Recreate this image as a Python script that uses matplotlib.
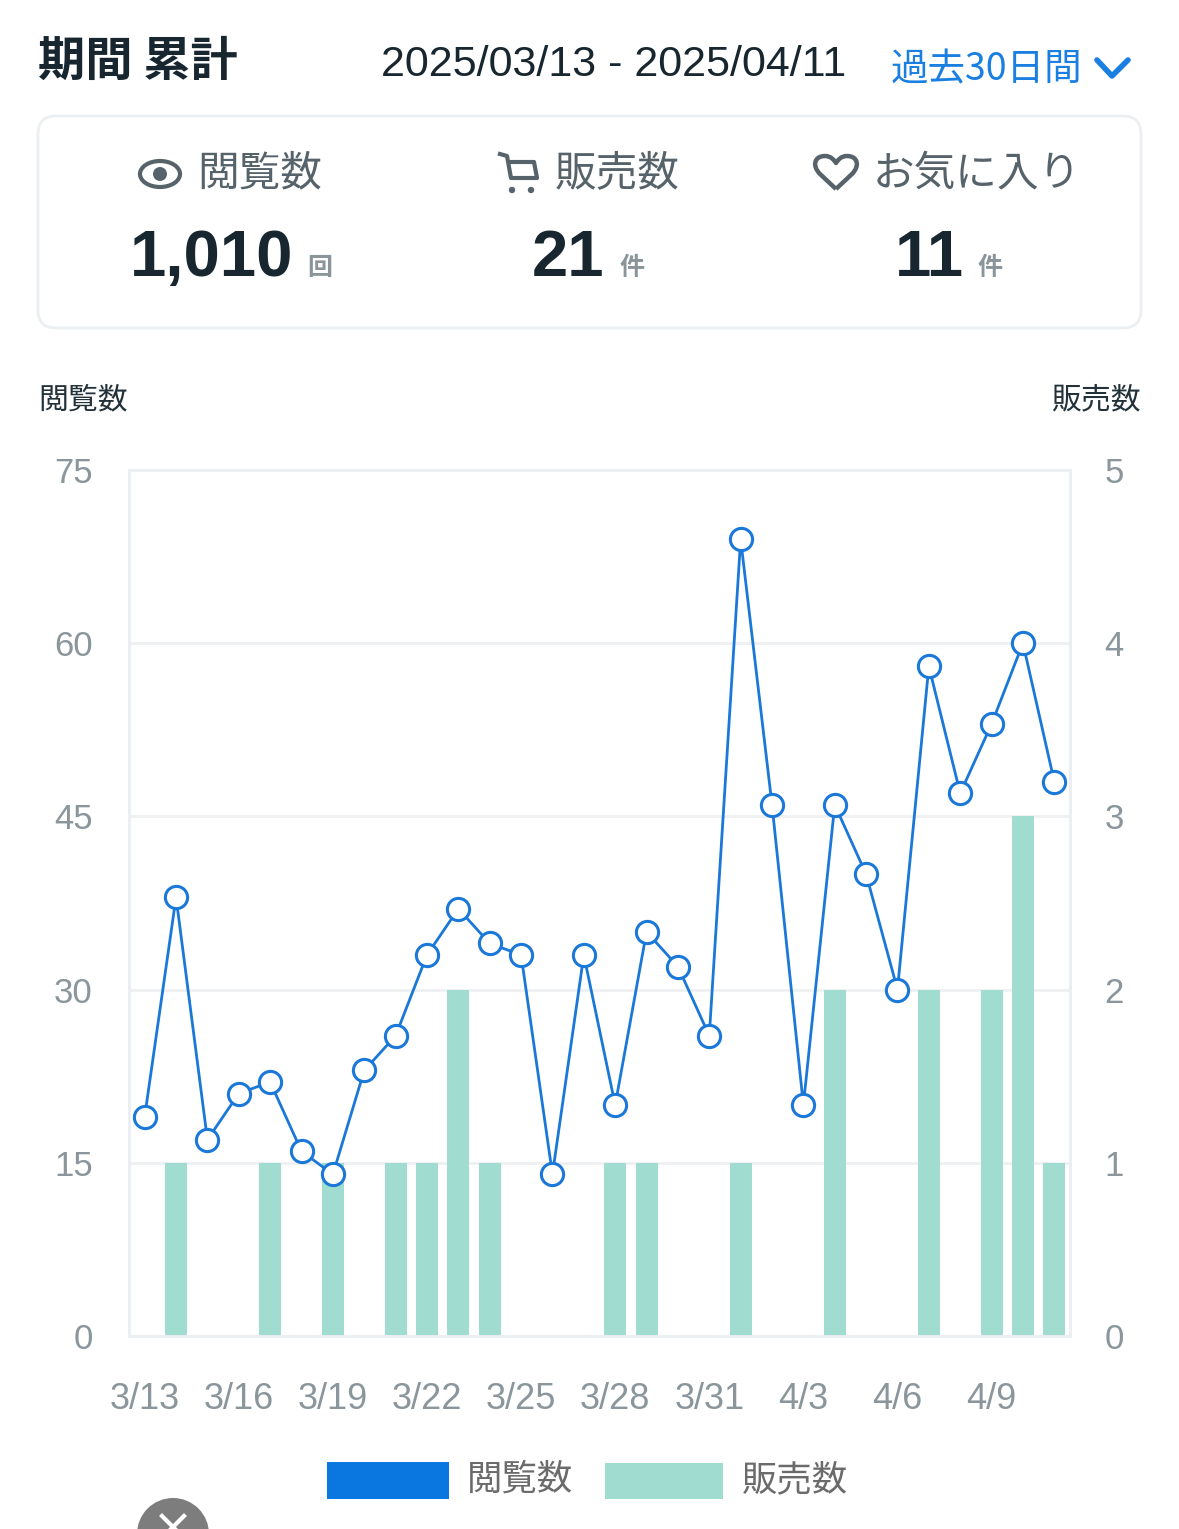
import matplotlib
matplotlib.use("Agg")
import matplotlib.pyplot as plt
from matplotlib.patches import FancyBboxPatch, Rectangle, Ellipse, Circle, PathPatch
from matplotlib.path import Path

plt.rcParams['font.family'] = ['Noto Sans CJK JP', 'DejaVu Sans']

dates = ["3/13", "3/14", "3/15", "3/16", "3/17", "3/18", "3/19", "3/20", "3/21", "3/22",
         "3/23", "3/24", "3/25", "3/26", "3/27", "3/28", "3/29", "3/30", "3/31", "4/1",
         "4/2", "4/3", "4/4", "4/5", "4/6", "4/7", "4/8", "4/9", "4/10", "4/11"]
views = [19, 38, 17, 21, 22, 16, 14, 23, 26, 33,
         37, 34, 33, 14, 33, 20, 35, 32, 26, 69,
         46, 20, 46, 40, 30, 58, 47, 53, 60, 48]
sales = [0, 1, 0, 0, 1, 0, 1, 0, 1, 1,
         2, 1, 0, 0, 0, 1, 1, 0, 0, 1,
         0, 0, 2, 0, 0, 2, 0, 2, 3, 1]
view_ticks = [0, 15, 30, 45, 60, 75]
sales_ticks = [0, 1, 2, 3, 4, 5]
summary_labels = ["閲覧数", "販売数", "お気に入り"]
summary_values = ["1,010", "21", "11"]
summary_units = ["回", "件", "件"]

W, H = 1179, 1529
BLUE = "#1a78d8"
TEAL = "#a0ddd0"
GRAY_TICK = "#8a969c"
DARK = "#17262f"
NUM_FONT = ["Liberation Sans", "DejaVu Sans"]

fig = plt.figure(figsize=(W / 100, H / 100), dpi=100)

# background overlay in pixel coords
bg = fig.add_axes([0, 0, 1, 1], zorder=0)
bg.set_xlim(0, W)
bg.set_ylim(H, 0)
bg.axis("off")

bg.text(38, 62, "期間 累計", fontsize=34, fontweight="bold", color=DARK, va="center", ha="left")
bg.text(381, 65, "2025/03/13 - 2025/04/11", fontsize=31, color=DARK, va="center", ha="left",
        family=NUM_FONT)
bg.text(891, 70, "過去30日間", fontsize=27, color="#1a7fe0", va="center", ha="left")
bg.plot([1097, 1112, 1128], [60, 76, 60], color="#1a7fe0", lw=4, solid_capstyle="round",
        solid_joinstyle="round")

card = FancyBboxPatch((38, 116), 1103, 212, boxstyle="round,pad=0,rounding_size=18",
                      facecolor="white", edgecolor="#eceff1", lw=2)
bg.add_patch(card)

# icons
icon_c = "#56636b"
bg.add_patch(Ellipse((160, 174), 40, 26, facecolor="none", edgecolor=icon_c, lw=3))
bg.add_patch(Circle((160, 174), 7, facecolor=icon_c, edgecolor="none"))
bg.plot([500, 507, 511, 537, 534, 512], [154, 156, 178, 178, 162, 162], color=icon_c, lw=3,
        solid_joinstyle="round")
bg.add_patch(Circle((512, 190), 2.5, color=icon_c))
bg.add_patch(Circle((531, 190), 2.5, color=icon_c))
heart = Path(
    [(836, 189), (820, 174), (812, 166), (814, 156), (825, 156), (831, 156), (834, 160), (836, 163),
     (838, 160), (841, 156), (847, 156), (858, 156), (860, 166), (852, 174), (836, 189)],
    [Path.MOVETO, Path.LINETO, Path.CURVE4, Path.CURVE4, Path.CURVE4, Path.CURVE4, Path.CURVE4,
     Path.CURVE4, Path.CURVE4, Path.CURVE4, Path.CURVE4, Path.CURVE4, Path.CURVE4, Path.CURVE4,
     Path.LINETO])
bg.add_patch(PathPatch(heart, facecolor="none", edgecolor=icon_c, lw=3.2, joinstyle="round"))

label_x = [197, 555, 873]
value_x = [130, 532, 895]
unit_x = [307, 619, 977]
for lx, vx, ux, lab, val, unit in zip(label_x, value_x, unit_x, summary_labels, summary_values, summary_units):
    bg.text(lx, 174, lab, fontsize=30, color=icon_c, va="center", ha="left")
    bg.text(vx, 259, val, fontsize=47, fontweight="bold", color=DARK, va="center", ha="left",
            family=NUM_FONT)
    bg.text(ux, 268, unit, fontsize=18, fontweight="bold", color="#8a959b", va="center", ha="left")

bg.text(38, 400, "閲覧数", fontsize=21.5, color="#23323a", va="center", ha="left")
bg.text(1141, 400, "販売数", fontsize=21.5, color="#23323a", va="center", ha="right")

# legend
bg.add_patch(Rectangle((327, 1462), 122, 37, facecolor="#0a76e0", edgecolor="none"))
bg.text(467, 1480, "閲覧数", fontsize=25.5, color="#6b6b6b", va="center", ha="left")
bg.add_patch(Rectangle((605, 1463), 118, 36, facecolor=TEAL, edgecolor="none"))
bg.text(742, 1480, "販売数", fontsize=25.5, color="#6b6b6b", va="center", ha="left")

# floating close button (partly cut off)
bg.add_patch(Circle((173, 1534), 36, facecolor="#7d7d7d", edgecolor="none"))
bg.plot([162, 184], [1516, 1538], color="white", lw=3)
bg.plot([184, 162], [1516, 1538], color="white", lw=3)

# chart
left, right, top, bottom = 129, 1070, 470, 1336
ax = fig.add_axes([left / W, 1 - bottom / H, (right - left) / W, (bottom - top) / H], zorder=2)
ax2 = ax.twinx()
ax.set_zorder(3)
ax2.set_zorder(2)
ax.patch.set_visible(False)

x = list(range(len(dates)))
ax2.bar(x, sales, width=0.7, color=TEAL, zorder=2)
ax2.set_ylim(0, 5)
ax2.set_yticks(sales_ticks)
ax2.grid(axis="y", color="#eef0f1", lw=2, zorder=0)
ax2.set_axisbelow(True)

ax.plot(x, views, color=BLUE, lw=2, marker="o", markersize=16, markerfacecolor="white",
        markeredgecolor=BLUE, markeredgewidth=2.2, zorder=5, clip_on=False)
ax.set_ylim(0, 75)
ax.set_yticks(view_ticks)
ax.set_xlim(-0.5, 29.5)
ax.set_xticks(x[::3])
ax.set_xticklabels(dates[::3])

for a in (ax, ax2):
    for s in a.spines.values():
        s.set_color("#eceff1")
        s.set_linewidth(2)
    a.tick_params(length=0, labelcolor=GRAY_TICK, labelsize=25)
    for lab in a.get_xticklabels() + a.get_yticklabels():
        lab.set_family(NUM_FONT)
ax.tick_params(axis="x", labelsize=26)
ax.tick_params(axis="y", pad=26)
ax2.tick_params(axis="y", pad=25)
ax.tick_params(axis="x", pad=33)

fig.savefig("out.png", dpi=100)
